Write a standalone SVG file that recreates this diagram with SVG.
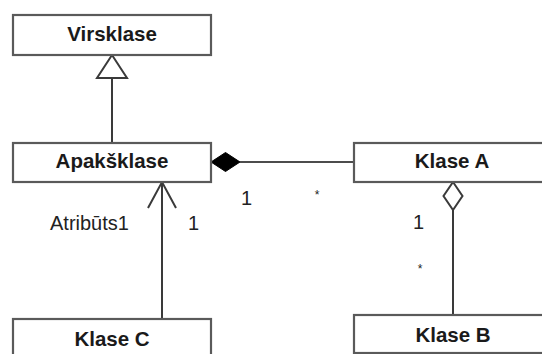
<svg xmlns="http://www.w3.org/2000/svg" width="542" height="354" viewBox="0 0 542 354">
  <style>
    .box { fill: #ffffff; stroke: #5a5a5a; stroke-width: 2.2; }
    .name { font-family: "Liberation Sans", Arial, sans-serif; font-weight: bold; font-size: 20.5px; fill: #1a1a1a; text-anchor: middle; }
    .lbl { font-family: "Liberation Sans", Arial, sans-serif; font-size: 20px; fill: #222222; }
    .star { font-family: "Liberation Sans", Arial, sans-serif; font-size: 12px; fill: #222222; text-anchor: middle; }
    .line { fill: none; stroke: #3a3a3a; stroke-width: 2; }
  </style>
  <rect width="542" height="354" fill="#ffffff"/>

  <g id="connectors">
    <!-- generalization: Apakšklase -> Virsklase -->
    <line class="line" x1="112" y1="78" x2="112" y2="143"/>
    <polygon points="112,55 97,78 127,78" fill="#ffffff" stroke="#3a3a3a" stroke-width="2"/>
    <!-- composition: Klase A -> Apakšklase -->
    <line x1="240" y1="162" x2="354" y2="162" stroke="#111111" stroke-width="1.6"/>
    <polygon points="211,162 225.5,152.5 240,162 225.5,171.5" fill="#000000" stroke="#000000" stroke-width="1"/>
    <!-- aggregation: Klase B -> Klase A -->
    <line class="line" x1="453" y1="210" x2="453" y2="315"/>
    <polygon points="453,182 462.5,196 453,210 443.5,196" fill="#ffffff" stroke="#3a3a3a" stroke-width="2"/>
    <!-- navigable association: Klase C -> Apakšklase -->
    <line class="line" x1="162" y1="182" x2="162" y2="319"/>
    <polyline class="line" points="148,208 162,182 176,208"/>
  </g>

  <g id="labels">
    <text class="lbl" x="241" y="205">1</text>
    <text class="star" x="317" y="199">*</text>
    <text class="lbl" x="50" y="230">Atribūts1</text>
    <text class="lbl" x="188" y="230">1</text>
    <text class="lbl" x="413" y="229">1</text>
    <text class="star" x="420" y="273">*</text>
  </g>

  <g id="virsklase">
    <rect class="box" x="13" y="15" width="198" height="40"/>
    <text class="name" x="112" y="41">Virsklase</text>
  </g>
  <g id="apakšklase">
    <rect class="box" x="13" y="143" width="198" height="39"/>
    <text class="name" x="112" y="168">Apakšklase</text>
  </g>
  <g id="klase-a">
    <rect class="box" x="354" y="143" width="200" height="39"/>
    <text class="name" x="452" y="168">Klase A</text>
  </g>
  <g id="klase-c">
    <rect class="box" x="13" y="319" width="198" height="45"/>
    <text class="name" x="112" y="346">Klase C</text>
  </g>
  <g id="klase-b">
    <rect class="box" x="354" y="315" width="200" height="38"/>
    <text class="name" x="453" y="342">Klase B</text>
  </g>
</svg>
